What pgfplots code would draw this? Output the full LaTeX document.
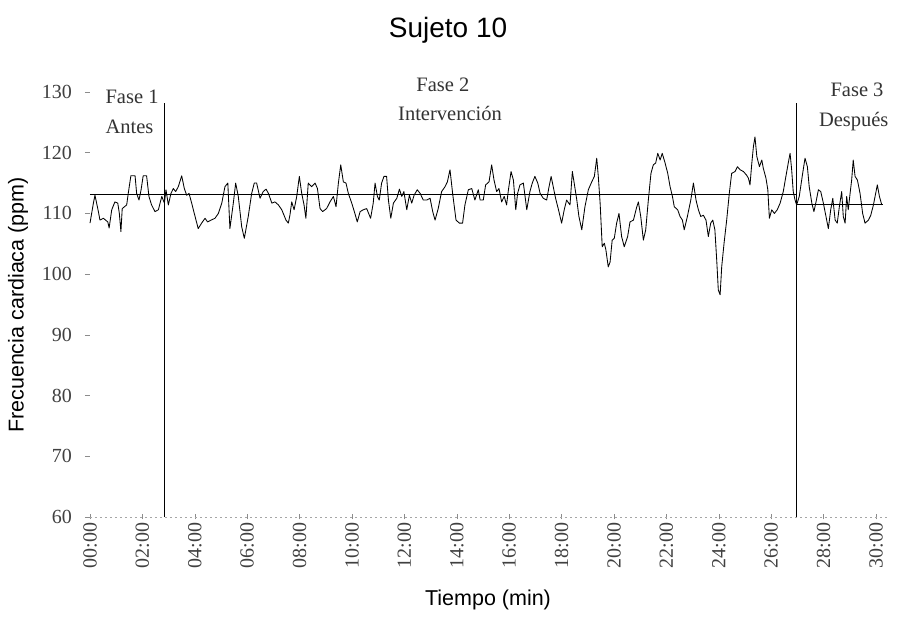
\documentclass[border=0pt]{standalone}
\usepackage{fontspec}
\setmainfont{Liberation Serif}
\setsansfont{Liberation Sans}
\usepackage{pgfplots}
\pgfplotsset{compat=1.18}
\usepackage{pgfplotstable}
\newcommand{\tickfont}{\fontsize{20}{22}\selectfont}
\newcommand{\phasefont}{\fontsize{20.5}{22}\selectfont}
\newcommand{\labfont}{\sffamily\fontsize{21.5}{24}\selectfont}
\newcommand{\titfont}{\sffamily\fontsize{28}{30}\selectfont}
\pgfplotstableread{
t hr
0 108.4
0.13 111.7
0.19 113.0
0.32 110.3
0.38 108.9
0.51 109.2
0.68 108.6
0.73 107.6
0.83 110.6
0.95 111.9
1.06 111.7
1.12 110.0
1.18 107.0
1.23 110.8
1.40 111.4
1.46 113.3
1.56 116.2
1.72 116.2
1.78 113.3
1.87 112.2
1.95 113.9
2.03 116.2
2.16 116.2
2.25 112.8
2.35 111.4
2.48 110.3
2.61 110.6
2.74 112.8
2.84 111.7
2.90 113.9
2.99 111.4
3.09 113.3
3.18 114.1
3.27 113.6
3.37 114.4
3.50 116.2
3.60 114.1
3.69 113.0
3.78 113.3
3.88 111.7
4.01 109.5
4.13 107.5
4.26 108.4
4.39 109.2
4.49 108.6
4.62 108.9
4.77 109.2
4.90 110.0
5.03 111.7
5.15 114.4
5.26 115.0
5.34 107.5
5.47 111.7
5.56 115.0
5.66 112.8
5.79 107.8
5.89 105.9
6.04 109.5
6.17 113.3
6.27 115.0
6.36 115.0
6.49 112.5
6.61 113.6
6.72 114.0
6.81 113.3
6.94 111.7
7.06 111.9
7.19 111.4
7.32 110.6
7.48 108.9
7.57 108.4
7.63 109.7
7.70 111.9
7.79 110.6
7.89 112.8
7.99 116.1
8.08 113.3
8.17 111.4
8.24 109.2
8.33 115.0
8.46 114.4
8.59 115.0
8.68 114.1
8.78 110.8
8.88 110.3
9.03 110.8
9.16 111.9
9.29 112.8
9.39 111.1
9.48 115.0
9.57 118.0
9.67 115.2
9.77 115.0
9.86 113.3
9.99 111.7
10.11 110.0
10.20 108.6
10.31 110.3
10.43 110.6
10.56 110.8
10.71 109.2
10.81 111.7
10.88 115.0
10.97 112.8
11.04 112.2
11.13 115.0
11.22 116.1
11.32 116.1
11.39 112.2
11.48 109.2
11.58 111.7
11.71 112.5
11.81 114.0
11.90 112.8
11.98 113.6
12.09 110.6
12.19 113.0
12.28 111.7
12.37 113.0
12.49 113.9
12.60 113.3
12.72 112.2
12.85 112.2
12.98 112.5
13.08 110.3
13.17 108.9
13.29 110.8
13.42 113.6
13.55 114.4
13.64 115.2
13.74 117.2
13.84 113.3
13.97 108.9
14.10 108.4
14.22 108.4
14.31 111.4
14.44 113.9
14.57 114.1
14.69 112.2
14.82 113.9
14.89 112.2
15.01 112.2
15.10 114.7
15.23 115.2
15.33 118.0
15.42 115.5
15.52 113.6
15.61 114.1
15.71 111.9
15.81 112.8
15.90 111.4
15.97 113.9
16.07 116.9
16.16 115.5
16.25 110.6
16.32 113.3
16.41 114.7
16.54 115.0
16.67 110.6
16.79 113.6
16.88 115.0
16.98 116.1
17.09 115.0
17.18 113.3
17.30 112.5
17.43 112.2
17.52 114.4
17.60 116.1
17.68 114.4
17.77 112.5
17.87 110.8
18.00 108.4
18.10 110.6
18.19 112.2
18.32 111.4
18.41 116.9
18.48 115.0
18.58 112.2
18.66 109.5
18.77 107.3
18.89 111.1
19.02 113.9
19.15 115.2
19.25 116.1
19.34 119.1
19.40 116.1
19.47 111.7
19.55 104.5
19.63 105.1
19.69 104.0
19.78 101.2
19.85 102.0
19.93 105.6
20.01 105.9
20.10 108.4
20.19 110.0
20.29 106.2
20.39 104.5
20.52 106.2
20.61 108.6
20.74 108.9
20.87 111.1
20.93 111.9
21.02 109.5
21.12 105.6
21.21 107.3
21.31 112.2
21.41 116.6
21.50 118.0
21.59 118.3
21.67 119.9
21.76 118.8
21.84 119.9
21.95 118.3
22.05 116.6
22.14 114.4
22.23 112.8
22.30 111.1
22.43 110.6
22.52 109.5
22.61 108.9
22.68 107.3
22.80 109.5
22.93 112.2
23.03 115.0
23.13 112.2
23.22 110.6
23.31 109.5
23.41 109.7
23.51 108.9
23.60 106.2
23.69 108.4
23.77 108.9
23.85 107.3
23.92 102.3
23.98 97.4
24.05 96.6
24.11 101.2
24.20 105.1
24.30 108.9
24.40 113.3
24.49 116.6
24.62 116.9
24.71 117.7
24.81 117.2
24.94 116.9
25.06 116.3
25.13 115.8
25.19 114.7
25.26 118.3
25.32 121.0
25.38 122.6
25.45 119.4
25.55 117.7
25.64 118.8
25.70 117.4
25.80 115.8
25.87 113.9
25.93 109.2
26.02 110.6
26.12 110.0
26.23 110.6
26.34 111.7
26.46 113.6
26.56 116.1
26.65 118.3
26.72 119.9
26.78 117.2
26.84 113.6
26.91 112.2
26.97 111.4
27.07 112.8
27.20 116.6
27.29 119.1
27.38 117.7
27.45 114.4
27.55 111.7
27.63 110.3
27.71 111.9
27.80 113.9
27.89 113.6
27.99 111.7
28.09 109.5
28.18 107.5
28.27 110.6
28.35 112.5
28.44 108.9
28.52 108.4
28.60 111.1
28.69 113.6
28.75 109.5
28.82 108.4
28.88 112.8
28.94 110.6
29.01 113.3
29.07 115.5
29.13 118.8
29.20 116.1
29.29 115.5
29.39 113.3
29.49 110.0
29.58 108.4
29.71 108.9
29.80 109.7
29.90 111.4
30.00 113.6
30.05 114.7
30.13 112.8
30.22 111.4
}\hrdata
\begin{document}
\begin{tikzpicture}
\useasboundingbox (-90pt,-101pt) rectangle (807pt,517pt);
\begin{axis}[
  at={(0,0)}, anchor=south west,
  scale only axis, width=796.5pt, height=425pt,
  xmin=0, xmax=30.4, ymin=60, ymax=130,
  clip=false,
  axis x line*=bottom, axis y line*=left,
  x axis line style={draw=black!35, dash pattern=on 2pt off 3pt, -},
  y axis line style={draw=none},
  xtick={0,2,...,30},
  xticklabels={00:00,02:00,04:00,06:00,08:00,10:00,12:00,14:00,16:00,18:00,20:00,22:00,24:00,26:00,28:00,30:00},
  ytick={60,70,...,130},
  xtick align=center, ytick align=outside,
  major tick length=5pt,
  tick style={black!45, line width=0.6pt},
  xticklabel style={rotate=90, anchor=east, inner sep=3pt, font=\tickfont, text=black!75},
  yticklabel style={anchor=east, inner sep=0pt, xshift=-13pt, font=\tickfont, text=black!75},
  /pgf/number format/assume math mode=true,
]
\addplot[black, line width=0.85pt, line join=round] table[x=t, y=hr] {\hrdata};
\addplot[black, line width=0.9pt] coordinates {(0,113.2) (26.95,113.2)};
\addplot[black, line width=1.1pt] coordinates {(26.95,111.5) (30.27,111.5)};
\addplot[black, line width=0.9pt] coordinates {(2.86,60) (2.86,128.2)};
\addplot[black, line width=0.9pt] coordinates {(26.95,60) (26.95,128.2)};
\node[anchor=west, font=\phasefont, text=black!80] at (axis cs:0.46,129.2) {Fase 1};
\node[anchor=west, font=\phasefont, text=black!80] at (axis cs:0.46,124.2) {Antes};
\node[font=\phasefont, text=black!80] at (axis cs:13.47,131.2) {Fase 2};
\node[font=\phasefont, text=black!80] at (axis cs:13.74,126.5) {Intervención};
\node[anchor=east, font=\phasefont, text=black!80] at (axis cs:30.42,130.3) {Fase 3};
\node[anchor=east, font=\phasefont, text=black!80] at (axis cs:30.61,125.1) {Después};
\node[font=\titfont] at (axis description cs:0.4495,1.146) {Sujeto 10};
\node[font=\labfont] at (axis description cs:0.4997,-0.195) {Tiempo (min)};
\node[font=\labfont, rotate=90] at (axis description cs:-0.0904,0.4988) {Frecuencia cardiaca (ppm)};
\end{axis}
\end{tikzpicture}
\end{document}
